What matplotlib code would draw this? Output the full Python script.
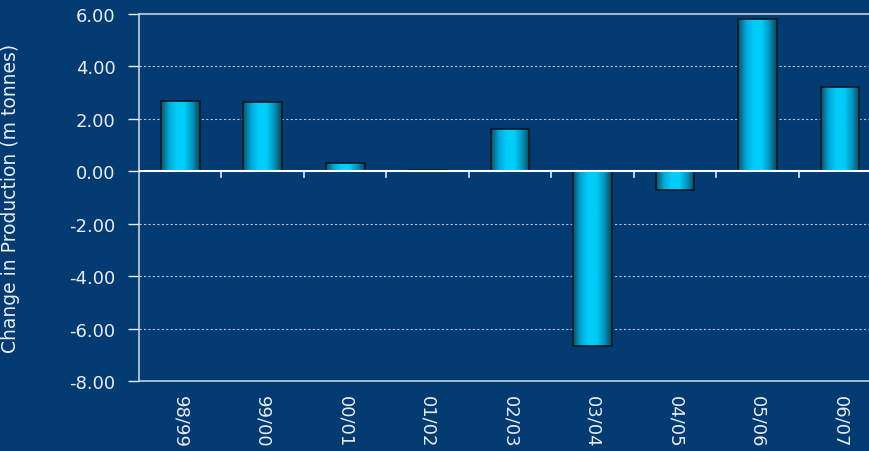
import numpy as np
import matplotlib
matplotlib.use("Agg")
from matplotlib import pyplot as plt
from matplotlib.colors import LinearSegmentedColormap

seasons = ['98/99', '99/00', '00/01', '01/02', '02/03', '03/04', '04/05', '05/06', '06/07']
change = [2.67, 2.65, 0.30, 0.05, 1.60, -6.68, -0.70, 5.80, 3.20]
yticks = [6, 4, 2, 0, -2, -4, -6, -8]

bg = '#023a72'
fg = '#e8ecf2'

fig = plt.figure(figsize=(8.7, 4.52), dpi=100, facecolor=bg)
ax = fig.add_axes([0.1598, 0.1549, 0.853, 0.812], facecolor=bg)

x = np.arange(len(seasons))
bars = ax.bar(x, change, width=0.47, color='none', edgecolor='#061a26', linewidth=1.2, zorder=3)

# horizontal gradient inside each bar
cmap = LinearSegmentedColormap.from_list('cyl', ['#0b4f66', '#00a8d8', '#00cdfb', '#00cdfb', '#0596c0', '#0a4458'])
grad = np.linspace(0, 1, 128).reshape(1, -1)
for b in bars:
    x0, y0 = b.get_x(), b.get_y()
    w, h = b.get_width(), b.get_height()
    im = ax.imshow(grad, cmap=cmap, aspect='auto', extent=[x0, x0 + w, y0, y0 + h],
                   interpolation='bicubic', zorder=2)
    im.set_clip_path(b)

ax.set_xlim(-0.5, len(seasons) - 0.5)
ax.set_ylim(-8, 6)

for yv in yticks[1:]:
    if yv != 0:
        ax.axhline(yv, color='#b8c4d4', linestyle=(0, (2, 2)), linewidth=0.8, zorder=1)

ax.set_yticks(yticks)
ax.set_yticklabels(['%.2f' % v for v in yticks])
ax.tick_params(axis='y', colors=fg, length=8, width=1, pad=9, labelsize=13)

ax.set_xticks(x)
ax.set_xticklabels(seasons, rotation=270, color=fg, fontsize=13)
ax.tick_params(axis='x', length=0, pad=10)

for s in ['left', 'top', 'bottom']:
    ax.spines[s].set_color('#c8d0dc')
    ax.spines[s].set_linewidth(1.2)
ax.spines['right'].set_visible(False)

# zero line with category boundary ticks
for xb in x[:-1] + 0.5:
    ax.plot([xb, xb], [0, -0.22], color=fg, linewidth=1.2, zorder=4)
ax.axhline(0, color='white', linewidth=1.5, zorder=4)

ax.set_ylabel('Change in Production (m tonnes)', color=fg, fontsize=13.5)
ax.yaxis.set_label_coords(-0.161, 0.5)

fig.savefig('out.png', dpi=100, facecolor=bg)
